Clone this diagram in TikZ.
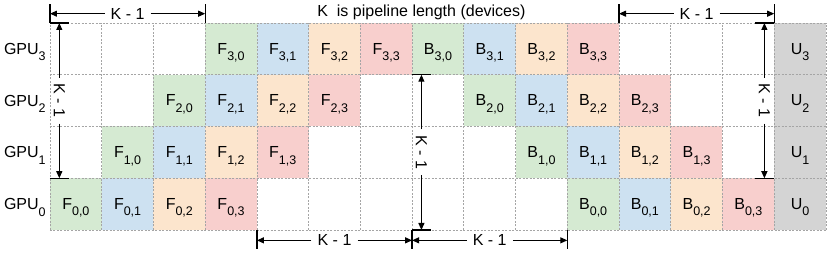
\documentclass[tikz,border=0pt]{standalone}
\usepackage{fontspec}
\setmainfont{Liberation Sans}
\usepackage{tikz}
\usetikzlibrary{arrows.meta}
\definecolor{stagegreen}{RGB}{213,234,210}
\definecolor{stageblue}{RGB}{205,225,241}
\definecolor{stageorange}{RGB}{252,229,205}
\definecolor{stagered}{RGB}{248,207,205}
\definecolor{updategray}{RGB}{212,212,212}
\definecolor{gridgray}{RGB}{165,165,165}
\colorlet{stage0}{stagegreen}
\colorlet{stage1}{stageblue}
\colorlet{stage2}{stageorange}
\colorlet{stage3}{stagered}
\newcommand{\idx}[1]{\raisebox{-6.5pt}{\fontsize{12.5}{14}\selectfont#1}}

\begin{document}
\begin{tikzpicture}[x=51.73pt,y=51.75pt,
    every node/.style={font=\fontsize{16}{19}\selectfont},
    cell/.style={minimum width=51.73pt,minimum height=51.75pt,inner sep=0pt,
                 text height=12pt,text depth=1.4pt},
    gridline/.style={gridgray,line width=0.8pt,dash pattern=on 2pt off 1.5pt},
    dimline/.style={line width=1.1pt,-{Triangle[length=7pt,width=6pt]}},
    tickbar/.style={line width=1.3pt},
    dimlabel/.style={inner sep=6pt}]
    \useasboundingbox (-50pt,-24pt) rectangle (780pt,230pt);

    % Forward passes
    \foreach \g in {0,...,3}
      \foreach \j in {0,...,3} {
        \pgfmathtruncatemacro{\c}{\g+\j}
        \node[cell,fill=stage\j] (F\g\j) at (\c+0.5,\g+0.5) {F\idx{\g,\j}};
      }

    % Backward passes
    \foreach \g in {0,...,3}
      \foreach \j in {0,...,3} {
        \pgfmathtruncatemacro{\c}{10-\g+\j}
        \node[cell,fill=stage\j] (B\g\j) at (\c+0.5,\g+0.5) {B\idx{\g,\j}};
      }

    % Updates and device names
    \foreach \g in {0,...,3} {
        \node[cell,fill=updategray] (U\g) at (14.5,\g+0.5) {U\idx{\g}};
        \node[anchor=east,inner sep=0pt,text height=12pt,text depth=1pt]
            (gpu\g) at (-0.08,\g+0.5) {GPU\idx{\g}};
    }

    % Dotted grid
    \foreach \c in {0,...,15}
        \draw[gridline] (\c,0) -- (\c,4);
    \foreach \r in {0,...,4}
        \draw[gridline] (0,\r) -- (15,\r);

    \node (title) at (7.18,4.2) {K\ \ is pipeline length (devices)};

    % Horizontal K - 1 spans
    \foreach \a/\b/\y/\ya/\yb/\n in {0/3/4.18/4/4.37/ktl, 11/14/4.18/4/4.37/ktr,
                                      4/7/-0.2/0/-0.37/kbl, 7/10/-0.2/0/-0.37/kbr} {
        \draw[tickbar] (\a,\ya) -- (\a,\yb);
        \draw[tickbar] (\b,\ya) -- (\b,\yb);
        \coordinate (\n1) at (\a,\y);
        \coordinate (\n2) at (\b,\y);
        \node[dimlabel] (\n) at ({(\a+\b)/2},\y) {K - 1};
        \draw[dimline] (\n) -- (\n1);
        \draw[dimline] (\n) -- (\n2);
    }

    % Vertical K - 1 spans
    \foreach \x/\ya/\yb/\xa/\xb/\n in {0.18/1/4/0/0.37/kvl, 7.18/0/3/7/7.37/kvc,
                                       13.81/1/4/13.63/14/kvr} {
        \draw[tickbar] (\xa,\ya) -- (\xb,\ya);
        \draw[tickbar] (\xa,\yb) -- (\xb,\yb);
        \coordinate (\n1) at (\x,\ya);
        \coordinate (\n2) at (\x,\yb);
        \node[dimlabel,rotate=-90] (\n) at (\x,{(\ya+\yb)/2}) {K - 1};
        \draw[dimline] (\n) -- (\n1);
        \draw[dimline] (\n) -- (\n2);
    }
\end{tikzpicture}
\end{document}
